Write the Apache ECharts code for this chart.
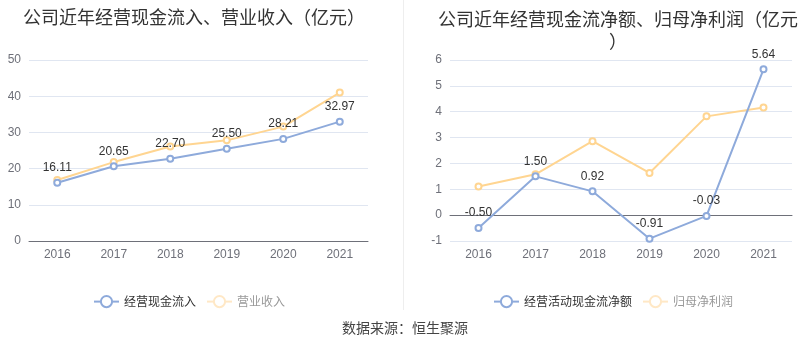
<!DOCTYPE html>
<html>
<head>
<meta charset="utf-8">
<script src="https://cdn.jsdelivr.net/npm/echarts@6/dist/echarts.min.js"></script>
<style>html,body{margin:0;padding:0;background:#fff}#c{width:800px;height:358px}</style>
</head>
<body>
<div id="c"></div>
<script>
var years = ['2016', '2017', '2018', '2019', '2020', '2021'];
var cashInflow = [16.11, 20.65, 22.70, 25.50, 28.21, 32.97];
var revenue = [16.85, 21.8, 26.1, 27.8, 31.6, 41.0];
var netCashFlow = [-0.50, 1.50, 0.92, -0.91, -0.03, 5.64];
var netProfit = [1.11, 1.58, 2.86, 1.63, 3.82, 4.16];
var leftTicks = { min: 0, max: 50, interval: 10 };
var rightTicks = { min: -1, max: 6, interval: 1 };

var BLUE = '#8eaadb', ORANGE = '#ffd591', ORANGE_FADE = '#ffe8c6';
var FONT = '"Liberation Sans", "Noto Sans CJK SC", sans-serif';
var CJK = '"Noto Sans CJK SC", sans-serif';
var chart = echarts.init(document.getElementById('c'));

function lineSeries(name, data, color, xi, yi, showLabel) {
  return {
    type: 'line', name: name, data: data, xAxisIndex: xi, yAxisIndex: yi,
    symbol: 'emptyCircle', symbolSize: 6,
    itemStyle: { color: color, borderWidth: 2 },
    lineStyle: { color: color, width: 2 },
    label: { show: showLabel, position: 'top', color: '#333', fontSize: 12, fontFamily: FONT,
      formatter: function (p) { return p.value.toFixed(2); } },
    z: showLabel ? 3 : 2
  };
}

var axisLabelStyle = { color: '#6e7079', fontSize: 12, fontFamily: FONT };

chart.setOption({
  animation: false,
  textStyle: { fontFamily: FONT },
  title: [
    { text: '公司近年经营现金流入、营业收入（亿元）', left: 18, top: 3,
      textStyle: { fontSize: 18, fontWeight: 'normal', color: '#333', fontFamily: CJK } },
    { text: '公司近年经营现金流净额、归母净利润（亿元）', left: 613, top: 3, textAlign: 'center',
      textStyle: { fontSize: 18, fontWeight: 'normal', color: '#333', width: 362, overflow: 'break', lineHeight: 22,
        fontFamily: CJK } },
    { text: '数据来源：恒生聚源', left: 400, top: 316, textAlign: 'center',
      textStyle: { fontSize: 14, fontWeight: 'normal', color: '#444', fontFamily: CJK } }
  ],
  legend: [
    { left: 88, top: 290, itemWidth: 25, itemHeight: 14, itemGap: 10,
      textStyle: { fontSize: 12, color: '#333', fontFamily: CJK },
      data: [
        { name: '经营现金流入' },
        { name: '营业收入', itemStyle: { color: ORANGE_FADE }, lineStyle: { color: ORANGE_FADE }, textStyle: { color: '#999' } }
      ] },
    { left: 488, top: 290, itemWidth: 25, itemHeight: 14, itemGap: 10,
      textStyle: { fontSize: 12, color: '#333', fontFamily: CJK },
      data: [
        { name: '经营活动现金流净额' },
        { name: '归母净利润', itemStyle: { color: ORANGE_FADE }, lineStyle: { color: ORANGE_FADE }, textStyle: { color: '#999' } }
      ] }
  ],
  grid: [
    { left: 29, right: 432, top: 60, bottom: 117 },
    { left: 450, right: 8, top: 60, bottom: 117 }
  ],
  xAxis: [
    { type: 'category', gridIndex: 0, data: years, boundaryGap: true,
      axisLine: { lineStyle: { color: '#6e7079' } },
      axisTick: { alignWithLabel: true, lineStyle: { color: '#6e7079' } },
      axisLabel: axisLabelStyle },
    { type: 'category', gridIndex: 1, data: years, boundaryGap: true,
      axisLine: { onZero: true, lineStyle: { color: '#6e7079' } },
      axisTick: { alignWithLabel: true, lineStyle: { color: '#6e7079' } },
      axisLabel: { show: false } },
    { type: 'category', gridIndex: 1, data: years, boundaryGap: true, position: 'bottom',
      axisLine: { show: false, onZero: false },
      axisTick: { show: false },
      axisLabel: axisLabelStyle }
  ],
  yAxis: [
    { type: 'value', gridIndex: 0, min: leftTicks.min, max: leftTicks.max, interval: leftTicks.interval,
      axisLabel: axisLabelStyle, splitLine: { lineStyle: { color: '#e0e6f1' } } },
    { type: 'value', gridIndex: 1, min: rightTicks.min, max: rightTicks.max, interval: rightTicks.interval,
      axisLabel: axisLabelStyle, splitLine: { lineStyle: { color: '#e0e6f1' } } }
  ],
  graphic: [
    { type: 'line', shape: { x1: 403.5, y1: 0, x2: 403.5, y2: 310 }, style: { stroke: '#eeeeee', lineWidth: 1 } }
  ],
  series: [
    lineSeries('营业收入', revenue, ORANGE, 0, 0, false),
    lineSeries('经营现金流入', cashInflow, BLUE, 0, 0, true),
    lineSeries('归母净利润', netProfit, ORANGE, 1, 1, false),
    lineSeries('经营活动现金流净额', netCashFlow, BLUE, 1, 1, true)
  ]
});
</script>
</body>
</html>
